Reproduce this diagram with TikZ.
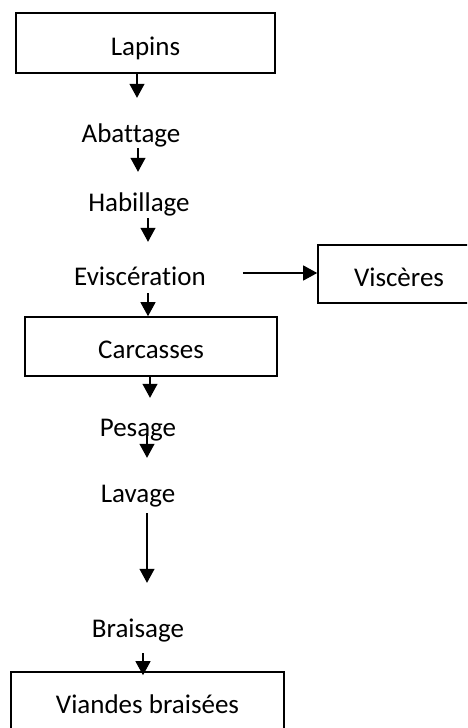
\documentclass[tikz,border=0pt]{standalone}
\usepackage{fontspec}
\setmainfont{Carlito}[Ligatures={NoCommon,NoRare,NoContextual}]
\usepackage{tikz}
\usetikzlibrary{arrows.meta,positioning,calc}

\tikzset{
  boite/.style={draw, line width=1.6pt, inner sep=0pt, text height=24pt, text depth=0pt},
  etape/.style={inner sep=0pt, anchor=base, text height=24pt, text depth=0pt},
  fleche/.style={line width=1.2pt, -{Triangle[width=15pt,length=14pt]}}
}

\begin{document}
\begin{tikzpicture}[x=1pt, y=-1pt, font=\fontsize{27}{32}\selectfont]
\clip (0,0) rectangle (467,728);
% boites
\node[boite, minimum width=259pt, minimum height=60pt] (lapins) at (145.5,43) {Lapins};
\node[boite, minimum width=252pt, minimum height=59pt] (carcasses) at (151,346.5) {Carcasses};
\node[boite, minimum width=162pt, minimum height=58pt] (visceres) at (399,274) {Viscères};
\node[boite, minimum width=273pt, minimum height=58pt] (viandes) at (147.5,701) {Viandes braisées};
% etapes
\node[etape] (abattage) at (131,142) {Abattage};
\node[etape] (habillage) at (139,211) {Habillage};
\node[etape] (evisceration) at (140,285) {Eviscération};
\node[etape] (pesage) at (138,436) {Pesage};
\node[etape] (lavage) at (138,502) {Lavage};
\node[etape] (braisage) at (138,637) {Braisage};
% fleches
\draw[fleche, shorten >=20pt] ([xshift=-8.5pt]lapins.south) -- ([xshift=6pt]abattage.north);
\draw[fleche, shorten <=6pt, shorten >=15pt] ([xshift=7pt]abattage.south) -- ([xshift=-1pt]habillage.north);
\draw[fleche, shorten <=7pt, shorten >=19pt] ([xshift=9pt]habillage.south) -- ([xshift=8pt]evisceration.north);
\draw[fleche, shorten <=8pt] ([xshift=8pt]evisceration.south) -- ([xshift=-3pt]carcasses.north);
\draw[fleche, shorten >=14pt] ([xshift=-1pt]carcasses.south) -- ([xshift=12pt]pesage.north);
\draw[fleche, shorten <=-3pt, shorten >=20pt] ([xshift=9pt]pesage.south) -- ([xshift=9pt]lavage.north);
\draw[fleche, shorten <=11pt, shorten >=30pt] ([xshift=9pt]lavage.south) -- ([xshift=9pt]braisage.north);
\draw[fleche, shorten <=16pt, shorten >=-4pt] ([xshift=5pt]braisage.south) -- ([xshift=-4.5pt]viandes.north);
\draw[fleche, shorten <=37pt] (evisceration.east) -- (evisceration.east -| visceres.west);
\end{tikzpicture}
\end{document}
